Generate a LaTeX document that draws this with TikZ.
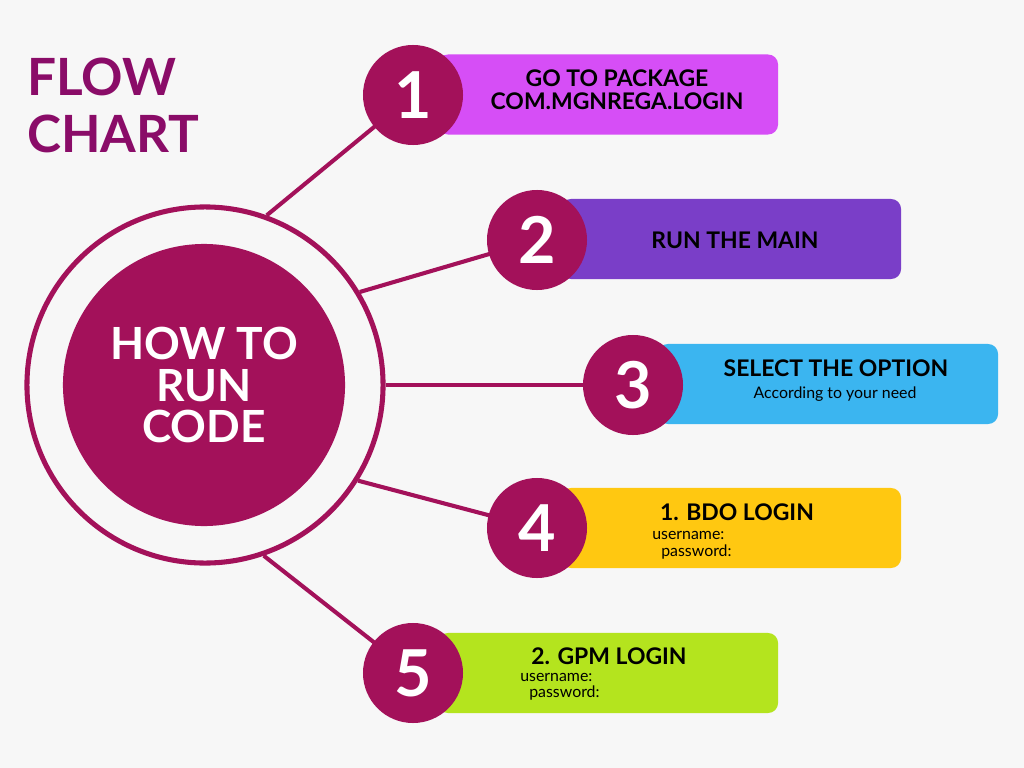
\documentclass[tikz,border=0pt]{standalone}
\usepackage{fontspec}
\setmainfont{Lato}
\usepackage{tikz}
\usetikzlibrary{positioning, shapes.geometric}
\definecolor{bgcol}{HTML}{F7F7F7}
\definecolor{berry}{HTML}{A3115A}
\definecolor{titlecol}{HTML}{8A0C68}
\definecolor{barone}{HTML}{D64EF6}
\definecolor{bartwo}{HTML}{7A3EC8}
\definecolor{barthree}{HTML}{3BB5F0}
\definecolor{barfour}{HTML}{FFC811}
\definecolor{barfive}{HTML}{B4E41E}
\tikzset{
  ringnode/.style={circle, draw=berry, line width=3.6pt, minimum size=8.9cm, inner sep=0pt},
  disk/.style={circle, fill=berry, minimum size=7.05cm, inner sep=0pt, align=center, text=white, font=\fontsize{31.5}{29.5}\selectfont\bfseries},
  numdisk/.style={circle, fill=berry, minimum size=2.5cm, inner sep=0pt, text=white, font=\fontsize{46}{46}\selectfont\bfseries},
  bar/.style={rectangle, rounded corners=0.25cm, minimum width=8.5cm, minimum height=2cm, inner sep=0pt},
  heading/.style={align=center, inner sep=0pt, font=\fontsize{16.3}{16.5}\selectfont\bfseries},
  subtext/.style={inner sep=0pt, font=\fontsize{11.3}{12}\selectfont},
  link/.style={draw=berry, line width=2.9pt},
}

\begin{document}
\begin{tikzpicture}[x=0.025cm, y=-0.025cm]
          \fill[bgcol] (0,0) rectangle (1024,768);
          \useasboundingbox (0,0) rectangle (1024,768);
        
          \node[text=titlecol, align=left, anchor=north west, inner sep=0pt, font=\fontsize{36.5}{40.5}\selectfont\bfseries] (title) at (27,58) {FLOW\\CHART};
        
          \node[ringnode] (ring) at (205,385) {};
        
          \draw[link] (ring.70) -- (413,95) coordinate (c1);
          \draw[link] (ring.31) -- (537,240) coordinate (c2);
          \draw[link] (ring.0) -- (633,385) coordinate (c3);
          \draw[link] (ring.-32) -- (537,528) coordinate (c4);
          \draw[link] (ring.-71) -- (413,673) coordinate (c5);
        
          \node[disk] (hub) at (204,385) {HOW TO\\RUN\\CODE};
        
          \node[bar, fill=barone] (bar1) at (608,94.5) {};
          \node[bar, fill=bartwo] (bar2) at (731,239) {};
          \node[bar, fill=barthree] (bar3) at (828,384) {};
          \node[bar, fill=barfour] (bar4) at (731,528) {};
          \node[bar, fill=barfive] (bar5) at (608,673) {};
        
          \node[numdisk] (n1) at (c1) {1};
          \node[numdisk] (n2) at (c2) {2};
          \node[numdisk] (n3) at (c3) {3};
          \node[numdisk] (n4) at (c4) {4};
          \node[numdisk] (n5) at (c5) {5};
        
          \node[heading] (t1) at (617,90) {GO TO PACKAGE\\COM.MGNREGA.LOGIN};
          \node[heading] (t2) at (735,240) {RUN THE MAIN};
          \node[heading] (t3) at (836,368) {SELECT THE OPTION};
          \node[subtext] (s3) at (835,394) {According to your need};
          \node[heading] (t4) at (737,512) {1. BDO LOGIN};
          \node[subtext, anchor=west] (u4) at (652,535) {username:};
          \node[subtext, anchor=west] (p4) at (661,552) {password:};
          \node[heading] (t5) at (609,656) {2. GPM LOGIN};
          \node[subtext, anchor=west] (u5) at (520,677) {username:};
          \node[subtext, anchor=west] (p5) at (529,693) {password:};
        \end{tikzpicture}
\end{document}
